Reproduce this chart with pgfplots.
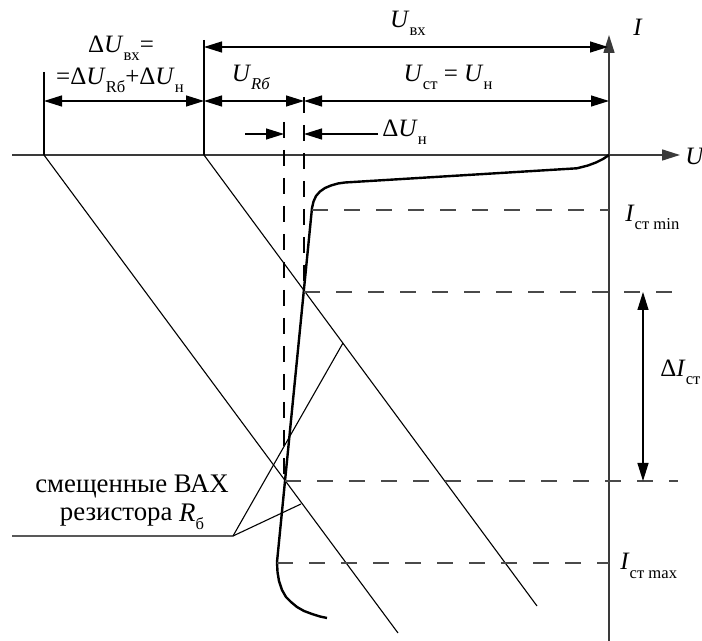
\documentclass[border=0pt]{standalone}
\usepackage{pgfplots}
\pgfplotsset{compat=1.18}
\usepackage{fontspec}
\setmainfont{Liberation Serif}
\usetikzlibrary{arrows.meta}
\definecolor{axgray}{HTML}{3A3A3A}
\definecolor{dashgray}{HTML}{4A4A4A}
\newcommand{\sub}[1]{\raisebox{-4pt}{\fontsize{8.3}{9}\selectfont #1}}
\newcommand{\U}{\textit{U}}
\newcommand{\I}{\textit{I}}
\begin{document}
\fontsize{12.5}{14}\selectfont
\begin{tikzpicture}[
  arr/.style={-{Triangle[length=9pt,width=5.5pt]}},
  darr/.style={{Triangle[length=9pt,width=5.5pt]}-{Triangle[length=9pt,width=5.5pt]}},
]
\begin{axis}[
  scale only axis, width=351pt, height=320.5pt,
  xmin=0, xmax=702, ymin=0, ymax=641, y dir=reverse,
  hide axis, clip=false,
]
% axes U and I
\addplot[axgray, line width=0.8pt, arr] coordinates {(12,155) (680,155)};
\addplot[axgray, line width=0.8pt, arr] coordinates {(609,641) (609,35)};

% shifted load lines of the resistor
\addplot[black, line width=0.55pt] coordinates {(44,155) (398,633)};
\addplot[black, line width=0.55pt] coordinates {(204,155) (537,606)};

% leader lines to the label
\addplot[black, line width=0.55pt] coordinates {(12,536) (233,536) (343,343)};
\addplot[black, line width=0.55pt] coordinates {(233,536) (301,504)};

% zener characteristic
\addplot[black, line width=1.2pt] coordinates {
  (609,155) (603,159) (596,162.5) (588,165.5) (577,168.3)
  (345,182.5) (338,183.5) (331,185.5) (325,188) (320,191.5) (316,196) (313.5,201.5) (312,208)
  (277,562) (277.5,572) (279,581) (282,590) (286,597) (291,602) (297,607) (304,611) (312,614) (320,616.5) (327,618)
};

% dashed guide lines
\addplot[dashgray, line width=0.7pt, dash pattern=on 8pt off 8pt] coordinates {(312,210) (609,210)};
\addplot[dashgray, line width=0.7pt, dash pattern=on 8pt off 8pt] coordinates {(304,292) (677,292)};
\addplot[dashgray, line width=0.7pt, dash pattern=on 8pt off 8pt] coordinates {(285,481) (678,481)};
\addplot[dashgray, line width=0.7pt, dash pattern=on 8pt off 8pt] coordinates {(277,563) (609,563)};
\addplot[black, line width=0.7pt, dash pattern=on 8pt off 6pt] coordinates {(284,122) (284,481)};
\addplot[black, line width=0.7pt, dash pattern=on 8pt off 6pt] coordinates {(304,97) (304,292)};

% extension lines
\addplot[black, line width=0.6pt] coordinates {(44,72) (44,155)};
\addplot[black, line width=0.6pt] coordinates {(204,40) (204,155)};

% dimension arrows
\addplot[black, line width=0.6pt, darr] coordinates {(204,47) (608,47)};
\addplot[black, line width=0.6pt, darr] coordinates {(44,101) (204,101)};
\addplot[black, line width=0.6pt, darr] coordinates {(204,101) (304,101)};
\addplot[black, line width=0.6pt, darr] coordinates {(304,101) (609,101)};
\addplot[black, line width=0.6pt, arr] coordinates {(245,134) (284,134)};
\addplot[black, line width=0.6pt, arr] coordinates {(378,134) (304,134)};
\addplot[black, line width=0.6pt, darr] coordinates {(643,292) (643,481)};

% labels
\node[anchor=base, inner sep=0pt] at (axis cs:408,28) {\U\sub{вх}};
\node[anchor=base, inner sep=0pt] at (axis cs:448,82) {\U\sub{ст} = \U\sub{н}};
\node[anchor=base, inner sep=0pt] at (axis cs:251,82) {\U\sub{\textit{Rб}}};
\node[anchor=base, inner sep=0pt] at (axis cs:121,53) {Δ\U\sub{вх}=};
\node[anchor=base, inner sep=0pt] at (axis cs:120,85) {=Δ\U\sub{Rб}+Δ\U\sub{н}};
\node[anchor=base west, inner sep=0pt] at (axis cs:382,137) {Δ\U\sub{н}};
\node[anchor=base west, inner sep=0pt] at (axis cs:633,36) {\I};
\node[anchor=base west, inner sep=0pt] at (axis cs:685,165) {\U};
\node[anchor=base west, inner sep=0pt] at (axis cs:625,222) {\I\sub{ст min}};
\node[anchor=base west, inner sep=0pt] at (axis cs:660,377) {Δ\I\sub{ст}};
\node[anchor=base west, inner sep=0pt] at (axis cs:620,570) {\I\sub{ст max}};
\node[anchor=base, align=center, inner sep=0pt, font=\fontsize{13.4}{14}\selectfont]
  at (axis cs:132,521) {смещенные ВАХ\\резистора \textit{R}\sub{б}};
\end{axis}
\pgfresetboundingbox
\path[use as bounding box] (current axis.south west) rectangle (current axis.north east);
\end{tikzpicture}
\end{document}
